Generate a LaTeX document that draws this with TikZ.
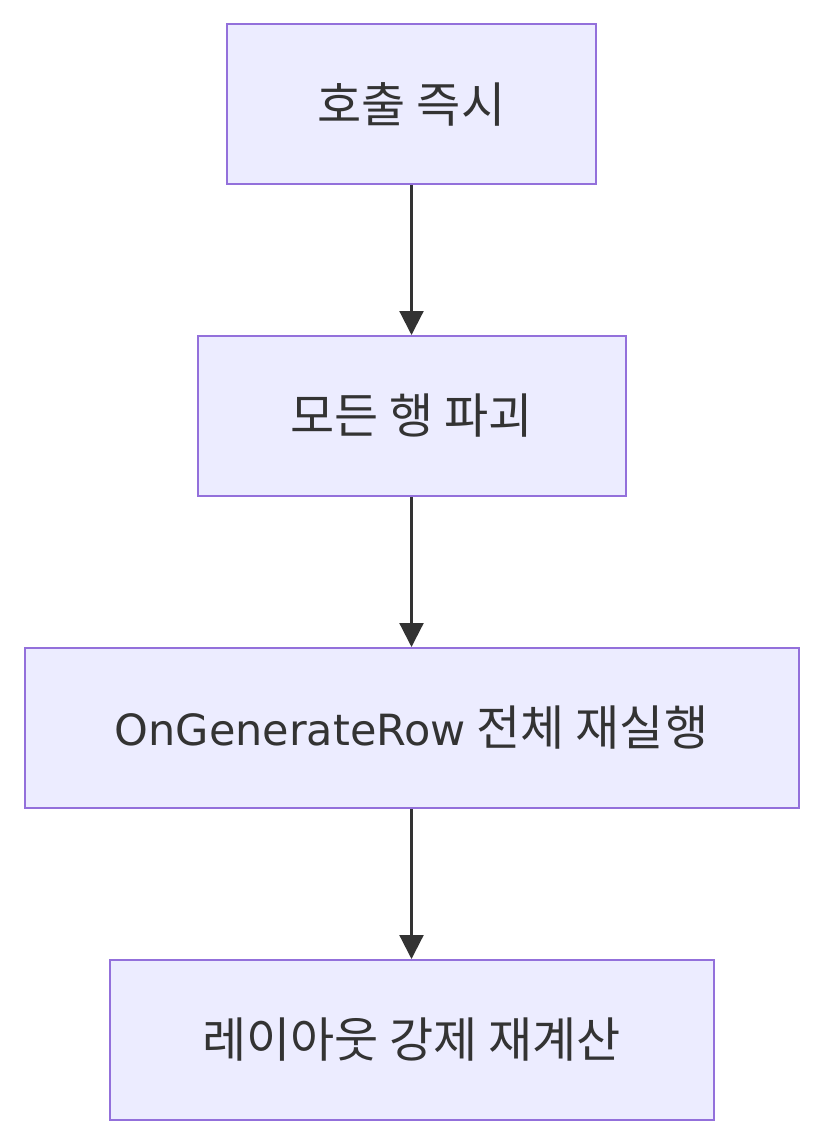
\documentclass[tikz,border=0pt]{standalone}
\usepackage{fontspec}
\setmainfont{DejaVu Sans}
\newfontfamily\krfont{Noto Sans CJK KR}
\usetikzlibrary{arrows.meta,positioning}
\definecolor{BoxFill}{HTML}{ECECFF}
\definecolor{BoxLine}{HTML}{9370DB}
\definecolor{Ink}{HTML}{333333}
\tikzset{
  stepbox/.style={
    draw=BoxLine, line width=2pt, fill=BoxFill, text=Ink,
    minimum height=160pt, inner sep=0pt, align=center,
    font=\fontsize{48}{56}\selectfont\krfont
  },
  flow/.style={-{Triangle[length=24pt,width=24pt]}, line width=2.2pt, draw=Ink}
}
\begin{document}
\begin{tikzpicture}[x=1pt,y=1pt,node distance=150pt]
    \useasboundingbox (0,0) rectangle (823,-1145);
    \node[stepbox,minimum width=369pt] (call) at (411.5,-104) {호출 즉시};
    \node[stepbox,minimum width=428pt,below=of call] (destroy) {모든 행 파괴};
    \node[stepbox,minimum width=774pt,below=of destroy] (regen) {{\rmfamily\fontsize{43}{50}\selectfont OnGenerateRow} 전체 재실행};
    \node[stepbox,minimum width=604pt,below=of regen] (layout) {레이아웃 강제 재계산};
    \draw[flow] (call)--(destroy);
    \draw[flow] (destroy)--(regen);
    \draw[flow] (regen)--(layout);
  \end{tikzpicture}
\end{document}
